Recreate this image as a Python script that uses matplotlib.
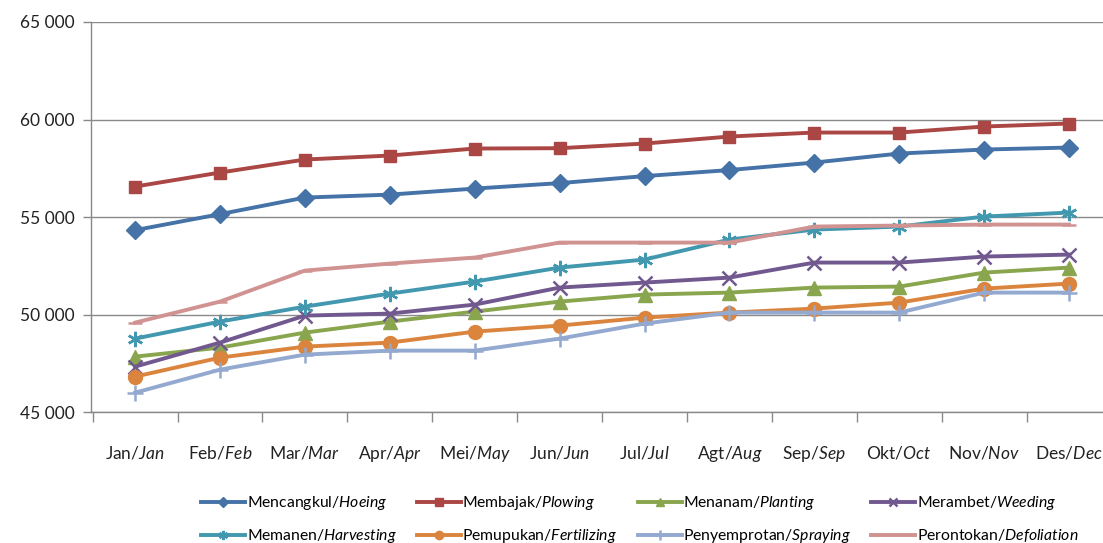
import numpy as np
import matplotlib
matplotlib.use("Agg")
import matplotlib.pyplot as plt
from matplotlib.ticker import FuncFormatter, FixedLocator

plt.rcParams['font.family'] = ['Lato', 'DejaVu Sans']
plt.rcParams['mathtext.fontset'] = 'custom'
plt.rcParams['mathtext.rm'] = 'Lato'
plt.rcParams['mathtext.it'] = 'Lato:italic'

months_id = ['Jan', 'Feb', 'Mar', 'Apr', 'Mei', 'Jun', 'Jul', 'Agt', 'Sep', 'Okt', 'Nov', 'Des']
months_en = ['Jan', 'Feb', 'Mar', 'Apr', 'May', 'Jun', 'Jul', 'Aug', 'Sep', 'Oct', 'Nov', 'Dec']

hoeing = [54330, 55150, 56000, 56150, 56460, 56740, 57100, 57410, 57795, 58256, 58462, 58564]
plowing = [56564, 57282, 57949, 58154, 58513, 58530, 58769, 59128, 59333, 59333, 59641, 59795]
planting = [47846, 48308, 49077, 49641, 50154, 50667, 51026, 51128, 51385, 51436, 52154, 52410]
weeding = [47333, 48564, 49949, 50051, 50513, 51385, 51641, 51897, 52667, 52667, 52974, 53077]
harvesting = [48769, 49641, 50410, 51077, 51692, 52410, 52821, 53846, 54359, 54513, 55026, 55231]
fertilizing = [46821, 47795, 48359, 48564, 49128, 49436, 49846, 50103, 50308, 50615, 51333, 51590]
spraying = [46000, 47179, 47949, 48154, 48154, 48769, 49538, 50103, 50103, 50103, 51128, 51128]
defoliation = [49590, 50667, 52256, 52615, 52923, 53692, 53692, 53692, 54513, 54564, 54615, 54615]

series = [
    ('Mencangkul', 'Hoeing', hoeing, '#4572A7', 'D', 9),
    ('Membajak', 'Plowing', plowing, '#AA4643', 's', 9),
    ('Menanam', 'Planting', planting, '#89A54E', '^', 10.5),
    ('Merambet', 'Weeding', weeding, '#71588F', 'x', 10),
    ('Memanen', 'Harvesting', harvesting, '#4198AF', (6, 2, 0), 11),
    ('Pemupukan', 'Fertilizing', fertilizing, '#DB843D', 'o', 10),
    ('Penyemprotan', 'Spraying', spraying, '#93A9CF', '+', 11),
    ('Perontokan', 'Defoliation', defoliation, '#D09392', '_', 10),
]

fig = plt.figure(figsize=(11.03, 5.43), dpi=100)
ax = fig.add_axes([0.0825, 0.241, 0.9175, 0.7185])

x = np.arange(len(months_id))
handles = []
for name_id, name_en, vals, col, mk, ms in series:
    ln, = ax.plot(x, vals, color=col, lw=2.8, marker=mk, markersize=ms,
                  markeredgewidth=1.8 if mk in ('x', '+', '_', (6, 2, 0)) else 1,
                  markeredgecolor=col, markerfacecolor=col,
                  label=name_id + '/$\\it{' + name_en + '}$')
    handles.append(ln)

ax.set_xlim(-0.52, 11.4)
ax.set_ylim(45000, 65000)
ax.set_yticks(np.arange(45000, 65001, 5000))
ax.yaxis.set_major_formatter(FuncFormatter(lambda v, p: '{:,.0f}'.format(v).replace(',', ' ')))
ax.set_xticks(x)
ax.set_xticklabels([a + '/$\\it{' + b + '}$' for a, b in zip(months_id, months_en)])
ax.xaxis.set_minor_locator(FixedLocator(np.arange(-0.5, 11.6, 1)))
ax.tick_params(axis='x', which='major', length=0, pad=23, labelsize=12.5, labelcolor='#222222')
ax.tick_params(axis='x', which='minor', length=7, color='#898989', width=1, direction='out')
ax.tick_params(axis='y', length=6, color='#898989', width=1, labelsize=12.5, pad=6,
               labelcolor='#222222')
ax.grid(axis='y', color='#8a8a8a', lw=1)
ax.set_axisbelow(True)
for s in ('top', 'right'):
    ax.spines[s].set_visible(False)
for s in ('left', 'bottom'):
    ax.spines[s].set_color('#898989')
    ax.spines[s].set_linewidth(1)

# row-wise legend order (matplotlib fills columns first)
order = [0, 4, 1, 5, 2, 6, 3, 7]
fig.legend([handles[i] for i in order], [handles[i].get_label() for i in order],
           loc='lower center', bbox_to_anchor=(0.58, -0.03), ncol=4, frameon=False,
           fontsize=11.3, handlelength=2.8, handletextpad=0.1, columnspacing=1.3,
           labelspacing=0.95, markerscale=0.6)

fig.savefig('out.png', dpi=100)
